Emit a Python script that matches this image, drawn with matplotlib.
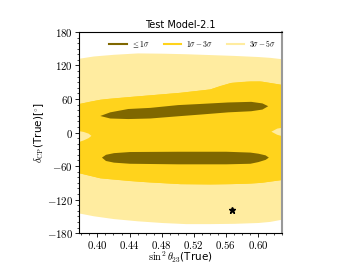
import matplotlib
matplotlib.use('Agg')
import matplotlib.pyplot as plt
import numpy as np
from matplotlib.ticker import MultipleLocator, FuncFormatter
from matplotlib.lines import Line2D

plt.rcParams['mathtext.fontset'] = 'cm'

# colours of the three regions
c1 = '#7f6700'
c3 = '#ffd31c'
c5 = '#ffeca0'

# outer 3-5 sigma band
x5 = np.array([0.377, 0.395, 0.42, 0.45, 0.48, 0.51, 0.54, 0.57, 0.60, 0.615, 0.63])
up5 = np.array([133, 137, 140, 142.5, 142, 141, 139.5, 138, 136, 134.5, 132])
lo5 = np.array([-144, -149, -154, -158, -161, -163, -163, -162.5, -161, -159, -155])

# 1-3 sigma band
x3u = np.array([0.377, 0.390, 0.403, 0.415, 0.453, 0.503, 0.540, 0.552, 0.567, 0.585, 0.602, 0.63])
up3 = np.array([52, 56, 59.5, 61.5, 66, 72, 78, 84, 90, 92, 92.5, 86])
x3l = np.array([0.377, 0.403, 0.44, 0.465, 0.503, 0.54, 0.565, 0.59, 0.605, 0.63])
lo3 = np.array([-72, -81, -86, -88.5, -91.5, -92, -91.5, -90.5, -89, -84])

# pale notches near delta = 0 at both edges
nl_x = [0.377, 0.383, 0.389, 0.3925, 0.389, 0.383, 0.377]
nl_y = [2.5, 1, -2, -6, -10, -14, -17]
nr_x = [0.63, 0.624, 0.6168, 0.624, 0.63]
nr_y = [8.5, 7, 1.5, -4, -6.4]

# <= 1 sigma islands
xa = np.array([0.4029, 0.4153, 0.4378, 0.4652, 0.50, 0.5275, 0.5624, 0.591, 0.605, 0.6122])
ta = np.array([30.5, 37, 43, 45, 50, 52, 54.7, 55.8, 53, 48])
ba = np.array([30.5, 26, 25, 26, 30, 33, 37, 39, 42, 48])

xb = np.array([0.405, 0.41, 0.42, 0.44, 0.50, 0.56, 0.59, 0.60, 0.609, 0.613])
tb = np.array([-44, -39, -36, -34, -33.5, -33.5, -35, -37, -40, -44])
bb = np.array([-44, -50, -53, -55, -56, -56, -55, -52, -48, -44])

star_x = 0.568
star_y = -138

fig = plt.figure(figsize=(3.52, 2.64), dpi=100)
ax = fig.add_axes([0.2244, 0.117, 0.5767, 0.762])

ax.fill_between(x5, lo5, up5, color=c5, lw=0)
ax.fill_between(x3u, np.interp(x3u, x3l, lo3), up3, color=c3, lw=0)
ax.fill_between(x3l, lo3, np.interp(x3l, x3u, up3), color=c3, lw=0)
ax.fill(nl_x, nl_y, color=c5, lw=0)
ax.fill(nr_x, nr_y, color=c5, lw=0)
ax.fill_between(xa, ba, ta, color=c1, lw=0)
ax.fill_between(xb, bb, tb, color=c1, lw=0)
ax.plot(star_x, star_y, marker='*', color='k', ms=5, ls='none')

ax.set_xlim(0.377, 0.63)
ax.set_ylim(-180, 180)
ax.xaxis.set_major_locator(MultipleLocator(0.04))
ax.xaxis.set_minor_locator(MultipleLocator(0.01))
ax.yaxis.set_major_locator(MultipleLocator(60))
ax.yaxis.set_minor_locator(MultipleLocator(10))
ax.xaxis.set_major_formatter(FuncFormatter(lambda v, p: r'$%.2f$' % v))
ax.yaxis.set_major_formatter(FuncFormatter(lambda v, p: r'$%d$' % round(v)))
ax.tick_params(which='major', length=3, width=0.6, labelsize=7.8, pad=1.2)
ax.tick_params(which='minor', length=1.6, width=0.5)
for s in ['left', 'bottom', 'top']:
    ax.spines[s].set_linewidth(0.8)
ax.spines['right'].set_color('#999999')
ax.spines['right'].set_linewidth(1.5)

ax.set_title('Test Model-2.1', fontsize=7, pad=3)
ax.set_xlabel(r'$\sin^2\theta_{23}$(True)', fontsize=7.5, labelpad=-1)
ax.set_ylabel(r'$\delta_{\rm CP}$(True)[$^{\circ}$]', fontsize=7.5, labelpad=1)

handles = [Line2D([], [], color=c1, lw=1.5),
           Line2D([], [], color=c3, lw=1.5),
           Line2D([], [], color=c5, lw=1.5)]
labels = [r'$\leq 1\sigma$', r'$1\sigma - 3\sigma$', r'$3\sigma - 5\sigma$']
ax.legend(handles, labels, ncol=3, loc='upper right', frameon=False,
          fontsize=5.5, handlelength=2.3, handletextpad=0.6,
          columnspacing=1.8, borderaxespad=0.4)

fig.savefig('out.png', dpi=100)
